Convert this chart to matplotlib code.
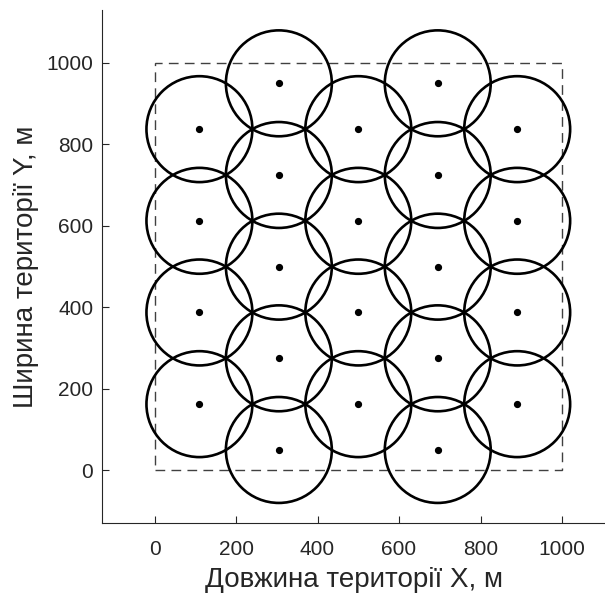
import numpy as np
import matplotlib.pyplot as plt
from matplotlib.patches import Circle, Rectangle

plt.rcParams["font.family"] = ["Liberation Sans", "DejaVu Sans"]

# центри зон (колонки з непарною та парною кількістю)
col_x = [110, 305, 500, 695, 890]
rows_odd = [162.5, 387.5, 612.5, 837.5]
rows_even = [50, 275, 500, 725, 950]
radius = 130
area_w = 1000
area_h = 1000

cx = []
cy = []
for i, x in enumerate(col_x):
    ys = rows_odd if i % 2 == 0 else rows_even
    for y in ys:
        cx.append(x)
        cy.append(y)

fig = plt.figure(figsize=(6.05, 5.95), dpi=100)
ax = fig.add_axes([0.168, 0.1205, 0.835, 0.8627])

ax.add_patch(Rectangle((0, 0), area_w, area_h, fill=False, ls=(0, (7, 4.5)),
                       lw=1.0, ec="#404040"))
for x, y in zip(cx, cy):
    ax.add_patch(Circle((x, y), radius, fill=False, ec="black", lw=1.9))
ax.plot(cx, cy, "ko", ms=4.2)

ax.set_xlim(-130, 1110)
ax.set_ylim(-130, 1130)
ax.set_xticks([0, 200, 400, 600, 800, 1000])
ax.set_yticks([0, 200, 400, 600, 800, 1000])
ax.spines["top"].set_visible(False)
ax.spines["right"].set_visible(False)
for s in ["left", "bottom"]:
    ax.spines[s].set_color("#262626")
    ax.spines[s].set_linewidth(0.8)
ax.tick_params(direction="in", length=5, width=0.8, colors="#262626",
               labelsize=15)
ax.tick_params(axis="x", pad=12)
ax.tick_params(axis="y", pad=6)
ax.set_xlabel("Довжина території X, м", fontsize=20, color="#262626", labelpad=6)
ax.set_ylabel("Ширина території Y, м", fontsize=20, color="#262626", labelpad=5)

fig.savefig("out.png", dpi=100)
